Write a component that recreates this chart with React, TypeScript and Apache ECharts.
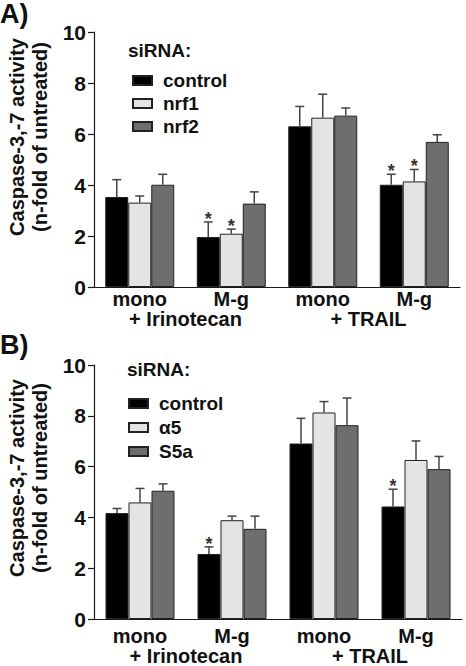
import React, { useEffect, useRef } from "react";
import * as echarts from "echarts";

// ---------- data ----------
const categories = ["mono", "M-g", "mono", "M-g"];
const treatments = ["+ Irinotecan", "+ TRAIL"];
const yAxisTitle = "Caspase-3,-7 activity\n(n-fold of untreated)";

// Panel A
const panelANames = ["control", "nrf1", "nrf2"];
const panelAControl = [3.53, 1.96, 6.3, 4.01];
const panelAControlErr = [0.68, 0.59, 0.78, 0.41];
const panelANrf1 = [3.31, 2.09, 6.64, 4.14];
const panelANrf1Err = [0.26, 0.18, 0.92, 0.47];
const panelANrf2 = [4.01, 3.27, 6.72, 5.69];
const panelANrf2Err = [0.41, 0.46, 0.3, 0.28];
const panelAControlSig = [false, true, false, true];
const panelANrf1Sig = [false, true, false, true];
const panelANrf2Sig = [false, false, false, false];

// Panel B
const panelBNames = ["control", "α5", "S5a"];
const panelBControl = [4.17, 2.56, 6.91, 4.43];
const panelBControlErr = [0.18, 0.28, 0.99, 0.68];
const panelBA5 = [4.59, 3.89, 8.13, 6.26];
const panelBA5Err = [0.55, 0.16, 0.43, 0.75];
const panelBS5a = [5.05, 3.55, 7.63, 5.9];
const panelBS5aErr = [0.27, 0.5, 1.07, 0.5];
const panelBControlSig = [false, true, false, true];
const panelBA5Sig = [false, false, false, false];
const panelBS5aSig = [false, false, false, false];

// ---------- style ----------
const FONT = "'Liberation Sans', Arial, Helvetica, sans-serif";
const COLORS = ["#000000", "#e4e4e4", "#6e6e6e"];
const BAR_W = 23;
const AXIS_COLOR = "#1a1a1a";

function buildPanel(
  gridIndex: number,
  xAxisIndex: number,
  names: string[],
  values: number[][],
  errs: number[][],
  sigs: boolean[][]
) {
  const series: any[] = names.map((name, i) => ({
    name,
    type: "bar",
    xAxisIndex,
    yAxisIndex: gridIndex,
    barWidth: BAR_W,
    barGap: "0%",
    data: values[i],
    itemStyle: { color: COLORS[i], borderColor: "#222", borderWidth: 1 },
    z: 2,
  }));
  const errData: any[] = [];
  values.forEach((vals, s) => {
    vals.forEach((v, c) => {
      errData.push([c, v, errs[s][c], s, sigs[s][c] ? 1 : 0]);
    });
  });
  series.push({
    type: "custom",
    xAxisIndex,
    yAxisIndex: gridIndex,
    data: errData,
    encode: { x: 0, y: 1 },
    z: 3,
    silent: true,
    renderItem: (params: any, api: any) => {
      const c = api.value(0);
      const v = api.value(1);
      const e = api.value(2);
      const s = api.value(3);
      const sig = api.value(4);
      const base = api.coord([c, v]);
      const top = api.coord([c, v + e]);
      const x = base[0] + (s - 1) * BAR_W;
      const children: any[] = [
        {
          type: "line",
          shape: { x1: x, y1: base[1], x2: x, y2: top[1] },
          style: { stroke: "#444", lineWidth: 1.5 },
        },
        {
          type: "line",
          shape: { x1: x - 4.5, y1: top[1], x2: x + 4.5, y2: top[1] },
          style: { stroke: "#444", lineWidth: 1.5 },
        },
      ];
      if (sig) {
        children.push({
          type: "text",
          x: x,
          y: top[1] - 3,
          style: {
            text: "*",
            fill: "#333",
            font: `bold 18px ${FONT}`,
            align: "center",
            verticalAlign: "middle",
          },
        });
      }
      return { type: "group", children };
    },
  });
  return series;
}

export default function App() {
  const ref = useRef<HTMLDivElement>(null);

  useEffect(() => {
    if (!ref.current) return;
    const chart = echarts.init(ref.current, undefined, { renderer: "svg" });

    const yAxisCommon = {
      type: "value",
      min: 0,
      max: 10,
      interval: 2,
      splitLine: { show: false },
      axisLine: { show: true, lineStyle: { color: AXIS_COLOR, width: 1.2 } },
      axisTick: { show: true, length: 6, lineStyle: { color: AXIS_COLOR, width: 1.2 } },
      axisLabel: {
        margin: 8,
        color: "#111",
        fontFamily: FONT,
        fontWeight: "bold",
        fontSize: 21,
      },
    };
    const labelStyle = {
      color: "#111",
      fontFamily: FONT,
      fontWeight: "bold",
      fontSize: 20,
      lineHeight: 20,
    };

    const series = [
      ...buildPanel(
        0,
        0,
        panelANames,
        [panelAControl, panelANrf1, panelANrf2],
        [panelAControlErr, panelANrf1Err, panelANrf2Err],
        [panelAControlSig, panelANrf1Sig, panelANrf2Sig]
      ),
      ...buildPanel(
        1,
        2,
        panelBNames,
        [panelBControl, panelBA5, panelBS5a],
        [panelBControlErr, panelBA5Err, panelBS5aErr],
        [panelBControlSig, panelBA5Sig, panelBS5aSig]
      ),
    ];

    const legendCommon = {
      orient: "vertical",
      icon: "rect",
      itemWidth: 19,
      itemHeight: 9,
      selectedMode: false,
      textStyle: {
        color: "#111",
        fontFamily: FONT,
        fontWeight: "bold",
        fontSize: 19,
        lineHeight: 19,
        padding: [0, 0, 0, 6],
      },
    };

    chart.setOption({
      animation: false,
      backgroundColor: "#ffffff",
      grid: [
        { left: 94, top: 32, width: 366, height: 255 },
        { left: 94, top: 365, width: 368, height: 254 },
      ],
      xAxis: [
        {
          type: "category",
          gridIndex: 0,
          data: categories,
          axisLine: { show: true, lineStyle: { color: AXIS_COLOR, width: 1.2 } },
          axisTick: { show: false },
          axisLabel: { ...labelStyle, margin: 2 },
        },
        {
          type: "category",
          gridIndex: 0,
          position: "bottom",
          offset: 20,
          data: treatments,
          axisLine: { show: false },
          axisTick: { show: false },
          axisLabel: { ...labelStyle, margin: 2 },
        },
        {
          type: "category",
          gridIndex: 1,
          data: categories,
          axisLine: { show: true, lineStyle: { color: AXIS_COLOR, width: 1.2 } },
          axisTick: { show: false },
          axisLabel: { ...labelStyle, margin: 7 },
        },
        {
          type: "category",
          gridIndex: 1,
          position: "bottom",
          offset: 20,
          data: treatments,
          axisLine: { show: false },
          axisTick: { show: false },
          axisLabel: { ...labelStyle, margin: 7 },
        },
      ],
      yAxis: [
        { ...yAxisCommon, gridIndex: 0 },
        { ...yAxisCommon, gridIndex: 1 },
      ],
      legend: [
        { ...legendCommon, data: panelANames, left: 127, top: 66, itemGap: 4 },
        { ...legendCommon, data: panelBNames, left: 123, top: 389, itemGap: 5 },
      ],
      graphic: [
        {
          type: "text",
          left: 0,
          top: 0,
          style: { text: "A)", fill: "#111", font: `bold 27px ${FONT}` },
        },
        {
          type: "text",
          left: 0,
          top: 331,
          style: { text: "B)", fill: "#111", font: `bold 27px ${FONT}` },
        },
        {
          type: "text",
          x: 128,
          y: 50,
          style: {
            text: "siRNA:",
            fill: "#111",
            font: `bold 19px ${FONT}`,
            align: "left",
            verticalAlign: "middle",
          },
        },
        {
          type: "text",
          x: 127,
          y: 369,
          style: {
            text: "siRNA:",
            fill: "#111",
            font: `bold 19px ${FONT}`,
            align: "left",
            verticalAlign: "middle",
          },
        },
        {
          type: "text",
          x: 28,
          y: 137,
          rotation: Math.PI / 2,
          style: {
            text: yAxisTitle,
            fill: "#111",
            font: `bold 20px ${FONT}`,
            lineHeight: 23,
            align: "center",
            verticalAlign: "middle",
          },
        },
        {
          type: "text",
          x: 28,
          y: 478,
          rotation: Math.PI / 2,
          style: {
            text: yAxisTitle,
            fill: "#111",
            font: `bold 20px ${FONT}`,
            lineHeight: 23,
            align: "center",
            verticalAlign: "middle",
          },
        },
      ],
      series,
    });

    return () => chart.dispose();
  }, []);

  return (
    <div
      ref={ref}
      style={{ position: "fixed", left: 0, top: 0, width: 466, height: 666 }}
    />
  );
}
